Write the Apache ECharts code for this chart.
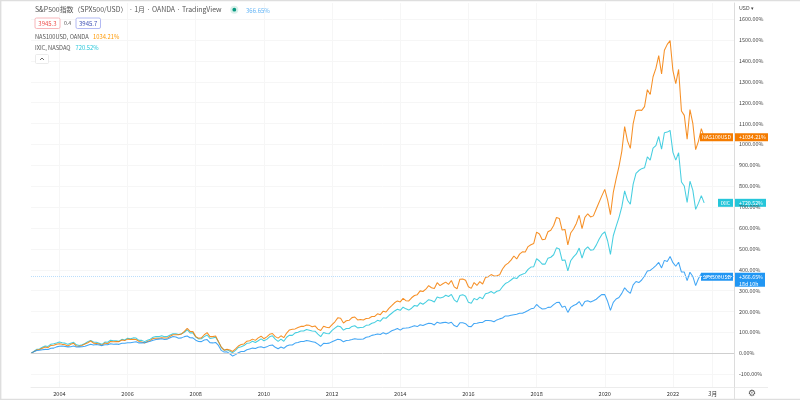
<!DOCTYPE html>
<html><head><meta charset="utf-8">
<style>html,body{margin:0;padding:0;background:#fff}#c{width:800px;height:400px;filter:blur(0.3px)}</style>
<script src="https://cdn.jsdelivr.net/npm/echarts@6/dist/echarts.min.js"></script>
</head><body><div id="c"></div>
<script>
// Monthly points, March 2003 to December 2022, percent change
const ixic = [0,9,19,21,29,35,33,44,46,49,
54,51,49,43,48,53,41,37,41,47,56,62,
54,53,48,43,54,53,63,60,60,58,67,64,
72,70,74,73,62,62,56,63,68,77,81,80,
84,80,81,88,94,94,90,94,101,113,98,98,
78,69,70,80,88,71,73,77,56,28,15,18,
10,3,14,28,32,37,48,50,58,52,60,69,
60,67,79,84,68,57,68,58,77,87,86,98,
101,107,107,114,111,107,106,92,80,100,95,94,
110,121,131,127,111,119,119,129,132,122,124,125,
134,136,144,148,158,154,170,168,181,192,203,211,
206,221,213,207,216,229,226,242,235,245,257,253,
246,270,265,268,278,272,282,256,245,277,281,273,
244,240,263,256,269,261,285,289,296,287,297,301,
319,334,341,351,362,358,373,379,384,402,413,415,
453,442,427,427,455,460,472,505,500,445,447,395,
443,462,476,504,456,497,510,494,496,518,546,569,
582,539,474,563,608,650,701,778,733,714,810,861,
875,884,888,941,925,982,994,1038,977,1056,1059,1067,
962,925,960,820,801,722,824,781,689,719,755,720.52];
const nas100 = [0,8,16,18,24,30,27,38,39,44,
46,43,41,35,43,48,35,34,38,45,51,59,
49,47,45,38,50,46,57,55,57,56,64,61,
68,66,67,66,57,54,49,57,62,71,72,72,
75,73,73,82,89,89,89,93,105,119,105,104,
80,72,74,89,99,80,80,83,56,30,15,19,
16,9,21,35,42,45,58,60,68,62,74,82,
70,79,91,95,80,73,84,75,97,112,115,117,
124,129,129,136,134,127,131,116,109,130,125,123,
137,151,170,168,145,156,158,171,174,160,162,160,
167,168,176,177,189,185,202,198,215,228,242,251,
246,263,252,251,266,277,281,299,296,307,324,314,
310,338,324,333,341,330,349,318,309,355,356,350,
319,311,339,325,343,332,363,367,377,370,371,376,
404,422,432,446,466,452,475,486,485,511,520,526,
580,571,544,546,582,589,612,650,646,590,593,519,
576,595,622,661,597,651,668,653,658,691,723,755,
785,735,664,770,835,894,967,1085,1017,981,1100,1161,
1165,1163,1181,1262,1239,1324,1364,1425,1337,1451,1479,1497,
1353,1291,1359,1160,1139,1025,1167,1101,975,1016,1076,1034.21];
const spx500 = [0,8,14,15,17,19,18,24,25,31,
34,35,33,31,32,35,30,31,32,34,39,43,
40,42,40,37,41,41,46,44,45,43,48,48,
51,51,53,55,50,50,51,54,58,63,66,68,
70,66,68,75,81,78,72,74,80,83,75,74,
63,57,56,64,66,51,50,52,38,14,6,7,
-2,-13,-6,3,9,9,17,21,25,23,29,32,
27,31,38,40,29,22,30,24,35,40,40,49,
52,57,57,61,59,56,53,44,34,48,47,49,
55,61,67,65,55,61,63,66,70,67,67,69,
77,79,86,89,93,90,99,93,99,108,113,119,
111,120,121,123,127,132,128,137,133,139,144,143,
136,149,144,147,149,144,149,133,127,146,146,142,
129,128,143,144,148,148,157,157,156,151,160,165,
169,179,179,182,185,187,192,192,198,205,213,216,
234,221,212,213,220,221,233,243,244,221,226,196,
220,229,235,248,225,248,252,246,252,259,271,282,
281,249,206,244,260,267,287,314,298,287,328,344,
339,351,370,394,397,408,420,435,409,445,440,464,
434,417,436,389,389,348,388,368,324,358,382,366.65];
const xTickMonths = [10,34,58,82,106,130,154,178,202,226,240];
const xTickLabels = ['2004','2006','2008','2010','2012','2014','2016','2018','2020','2022','3月'];
const yTicks = [-100,0,100,200,300,400,500,600,700,800,900,1000,1100,1200,1300,1400,1500,1600];

const FONT = '"Noto Sans CJK JP","Noto Sans",sans-serif';
const ORANGE = '#f57c00', CYAN = '#26c6da', BLUE = '#2196f3';
const pairs = a => a.map((v, i) => [i, v]);
const line = (name, data, color, extra) => Object.assign({
  name, type: 'line', data: pairs(data), symbol: 'none', smooth: false,
  silent: true, lineStyle: { color, width: 1.05, opacity: 0.85 }
}, extra || {});

const chart = echarts.init(document.getElementById('c'), null, { renderer: 'canvas' });
chart.setOption({
  animation: false,
  textStyle: { fontFamily: FONT },
  grid: { left: 31, right: 66, top: 3, bottom: 12.5 },
  xAxis: {
    type: 'value', min: 0, max: 247.5,
    axisLine: { show: true, onZero: false, lineStyle: { color: '#ececec', width: 1 } },
    axisTick: { show: false, customValues: xTickMonths },
    splitLine: { show: true, lineStyle: { color: '#f6f6f6', width: 1 } },
    axisLabel: {
      customValues: xTickMonths, margin: 4, fontSize: 5.6, color: '#333', fontFamily: FONT,
      showMinLabel: true, showMaxLabel: true,
      formatter: v => xTickLabels[xTickMonths.indexOf(v)] || ''
    }
  },
  yAxis: {
    type: 'value', position: 'right', min: -163.5, max: 1677,
    axisLine: { show: true, onZero: false, lineStyle: { color: '#dcdcdc', width: 1 } },
    axisTick: { show: false, customValues: yTicks },
    splitLine: { show: true, lineStyle: { color: '#f6f6f6', width: 1 } },
    axisLabel: {
      customValues: yTicks, margin: 5, fontSize: 5.4, color: '#444', fontFamily: FONT,
      formatter: v => v.toFixed(2) + '%'
    }
  },
  series: [
    line('IXIC', ixic, CYAN),
    line('NAS100USD', nas100, ORANGE),
    line('SPX500USD', spx500, BLUE, {
      markLine: {
        silent: true, symbol: 'none', label: { show: false },
        data: [
          { yAxis: 0, lineStyle: { color: '#cfcfcf', width: 1, type: 'solid', opacity: 1 } },
          { yAxis: 366.65, lineStyle: { color: '#bbdefb', width: 1, type: [1, 1], opacity: 1 } }
        ]
      }
    })
  ]
});

const yOf = v => chart.convertToPixel({ yAxisIndex: 0 }, v);
const txt = (x, y, text, fontSize, fill, extra) => ({
  type: 'text', x, y, silent: true,
  style: Object.assign({ text, fontSize, fill, fontFamily: FONT, textVerticalAlign: 'middle' }, extra || {})
});
const rect = (x, y, width, height, fill, extra) => ({
  type: 'rect', silent: true, shape: Object.assign({ x, y, width, height }, extra && extra.shape || {}),
  style: Object.assign({ fill }, extra && extra.style || {})
});
function tag(v, leftX, name, rightW, color, second) {
  const y = yOf(v);
  const out = [
    rect(leftX, y - 4, 733 - leftX, 8, color),
    txt((leftX + 733) / 2, y, name, 5.2, '#fff', { textAlign: 'center' }),
    rect(735, y - 4, rightW, second ? 14 : 8, color),
    txt(739, y, '+' + v.toFixed(2) + '%', 5.3, '#fff')
  ];
  if (second) out.push(txt(739, y + 7, second, 5.3, '#fff'));
  return out;
}
chart.setOption({ graphic: { elements: [
  rect(0, 0, 800, 1.2, '#dedede'),
  rect(0, 0, 1.4, 400, '#dedede'),
  rect(0, 398.8, 800, 1.2, '#dedede'),
  rect(734, 387, 1, 12, '#e0e0e0'),
  rect(735, 387, 33, 1, '#ececec'),
  txt(35, 9.5, 'S&P500指数（SPX500/USD） · 1月 · OANDA · TradingView', 6.9, '#555'),
  { type: 'circle', silent: true, shape: { cx: 234.3, cy: 9.7, r: 4 }, style: { fill: '#d9f0ea' } },
  { type: 'circle', silent: true, shape: { cx: 234.3, cy: 9.7, r: 1.9 }, style: { fill: '#089981' } },
  txt(246, 10.7, '366.65%', 6, '#64b5f6'),
  rect(35, 18, 25, 10.5, '#fff', { shape: { r: 1.5 }, style: { stroke: '#f5a3a8', lineWidth: 0.8 } }),
  txt(47.5, 23.4, '3945.3', 6, '#ef5350', { textAlign: 'center' }),
  txt(64, 23.4, '0.4', 5.2, '#555'),
  rect(76, 18, 24.5, 10.5, '#fff', { shape: { r: 1.5 }, style: { stroke: '#9fa8f0', lineWidth: 0.8 } }),
  txt(88.2, 23.4, '3945.7', 6, '#3f51b5', { textAlign: 'center' }),
  txt(35, 36.6, 'NAS100USD, OANDA', 5.7, '#555'),
  txt(93, 36.6, '1034.21%', 5.8, '#ff9800'),
  txt(35, 48, 'IXIC, NASDAQ', 5.7, '#555'),
  txt(75.5, 48, '720.52%', 5.8, '#26c6da'),
  rect(35.5, 54.5, 13, 9, '#fff', { shape: { r: 1 }, style: { stroke: '#e3e3e3', lineWidth: 0.7 } }),
  { type: 'polyline', silent: true, shape: { points: [[40, 60], [42, 58], [44, 60]] }, style: { stroke: '#444', lineWidth: 0.8, fill: null } },
  txt(739, 7.6, 'USD ▾', 5.4, '#444'),
  txt(752, 394, '⚙', 9, '#555', { textAlign: 'center', fontFamily: '"DejaVu Sans"' }),
  ...tag(1034.21, 700, 'NAS100USD', 33, ORANGE),
  ...tag(720.52, 718, 'IXIC', 31, CYAN),
  ...tag(366.65, 701, 'SPX500USD', 30, BLUE, '18d 10h')
] } });
</script></body></html>
